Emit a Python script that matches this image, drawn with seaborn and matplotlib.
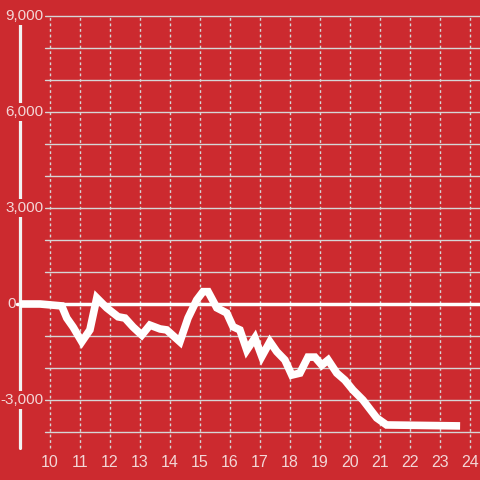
import matplotlib
matplotlib.use("Agg")
import matplotlib.pyplot as plt
import seaborn as sns
import pandas as pd

hours = [9.0, 9.67, 10.39, 10.56, 10.77, 11.06, 11.33, 11.56, 11.89, 12.27, 12.5,
         12.77, 13.06, 13.33, 13.67, 13.89, 14.33, 14.6, 14.89, 15.1, 15.27, 15.56,
         15.89, 16.1, 16.33, 16.56, 16.83, 17.06, 17.33, 17.56, 17.83, 18.06, 18.33,
         18.6, 18.83, 19.06, 19.27, 19.56, 19.83, 20.1, 20.43, 20.89, 21.22, 23.67]
values = [0, 0, -60, -440, -720, -1180, -810, 190, -120, -400, -440,
          -720, -970, -660, -780, -810, -1180, -440, 125, 385, 385, -120,
          -280, -710, -810, -1440, -1060, -1640, -1180, -1490, -1750, -2220, -2160,
          -1660, -1660, -1910, -1750, -2160, -2380, -2690, -3000, -3560, -3780, -3810]

x_ticks = list(range(10, 25))
y_ticks = [-3000, 0, 3000, 6000, 9000]
y_labels = ["-3,000", "0", "3,000", "6,000", "9,000"]

BG = "#cc2a2f"
TXT = "#f3d6d6"
GRID = "#d6d6d6"

sns.set_theme(style="white")
plt.rcParams["font.family"] = ["Liberation Sans", "DejaVu Sans"]

fig = plt.figure(figsize=(4.8, 4.8), dpi=100, facecolor=BG)
ax = fig.add_axes([0, 0, 1, 1], facecolor=BG)
ax.set_xlim(8 + 1/3, 24 + 1/3)
ax.set_ylim(-5500, 9500)

def yfrac(v):
    return (v + 5500) / 15000

# horizontal grid every 1000
for v in range(-4000, 9001, 1000):
    if v == 0:
        continue
    ax.axhline(v, xmin=45/480, xmax=1, color=GRID, lw=1.0, zorder=1)
# vertical dotted grid
for h in x_ticks:
    ax.axvline(h, ymin=yfrac(-4500), ymax=yfrac(9000), color=GRID, lw=1.0,
               ls=(0, (2, 2)), zorder=1)
# zero line
ax.axhline(0, xmin=17/480, xmax=1, color="white", lw=2.5, zorder=2)
# y axis line
ax.axvline(9.0, ymin=yfrac(-4500), ymax=yfrac(9000), color="#f2f2f2", lw=2.3, zorder=2)

df = pd.DataFrame({"hour": hours, "value": values})
sns.lineplot(data=df, x="hour", y="value", ax=ax, color="white", lw=5.5,
             zorder=4, solid_joinstyle="miter", solid_capstyle="butt")

for v, lab in zip(y_ticks, y_labels):
    if lab == "0":
        ax.text(8.73, v, lab, ha="center", va="center", color=TXT, fontsize=11, zorder=5)
    else:
        ax.text(9.77, v, lab, ha="right", va="center", color=TXT, fontsize=11,
                zorder=3, bbox=dict(boxstyle="square,pad=0.1", fc=BG, ec="none"))
for h in x_ticks:
    ax.text(h, -4940, str(h), ha="center", va="center", color=TXT, fontsize=11.5, zorder=5)

ax.set_xticks([])
ax.set_yticks([])
ax.set_xlabel("")
ax.set_ylabel("")
for s in ax.spines.values():
    s.set_visible(False)

fig.savefig("out.png", dpi=100, facecolor=BG)
